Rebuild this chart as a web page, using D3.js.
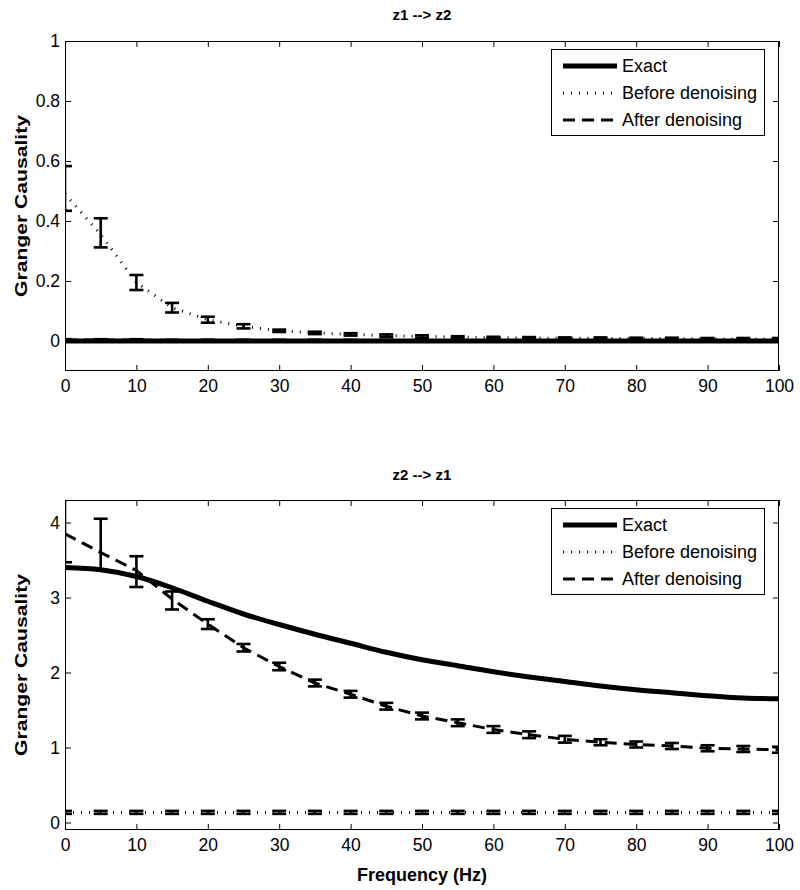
<!DOCTYPE html>
<html>
<head>
<meta charset="utf-8">
<script src="https://cdn.jsdelivr.net/npm/d3@7"></script>
<style>
  html, body { margin: 0; padding: 0; background: #fff; }
  svg { display: block; font-family: "Liberation Sans", Arial, Helvetica, sans-serif; }
</style>
</head>
<body>
<svg id="chart" width="800" height="890"></svg>
<script>
// ---------------- data ----------------
const freq = [0, 5, 10, 15, 20, 25, 30, 35, 40, 45, 50, 55, 60, 65, 70, 75, 80, 85, 90, 95, 100];
const xTicks = [0, 10, 20, 30, 40, 50, 60, 70, 80, 90, 100];

// Panel 1: z1 --> z2
const topExact      = [0, 0, 0, 0, 0, 0, 0, 0, 0, 0, 0, 0, 0, 0, 0, 0, 0, 0, 0, 0, 0];
const topBefore     = [0.49, 0.355, 0.195, 0.111, 0.071, 0.049, 0.034, 0.027, 0.022, 0.018, 0.015, 0.013, 0.011, 0.010, 0.009, 0.009, 0.008, 0.008, 0.007, 0.007, 0.007];
const topBeforeLow  = [0.434, 0.312, 0.170, 0.095, 0.061, 0.042, 0.030, 0.023, 0.018, 0.014, 0.011, 0.010, 0.008, 0.007, 0.006, 0.006, 0.005, 0.005, 0.004, 0.004, 0.004];
const topBeforeHigh = [0.583, 0.409, 0.220, 0.127, 0.081, 0.056, 0.038, 0.031, 0.026, 0.022, 0.019, 0.016, 0.014, 0.013, 0.012, 0.012, 0.011, 0.011, 0.010, 0.010, 0.010];
const topAfter      = [0.003, 0.003, 0.003, 0.002, 0.002, 0.002, 0.002, 0.002, 0.002, 0.002, 0.002, 0.002, 0.002, 0.002, 0.002, 0.002, 0.002, 0.002, 0.002, 0.002, 0.002];
const topAfterLow   = [0.000, 0.000, 0.000, 0.000, 0.000, 0.000, 0.000, 0.000, 0.000, 0.000, 0.000, 0.000, 0.000, 0.000, 0.000, 0.000, 0.000, 0.000, 0.000, 0.000, 0.000];
const topAfterHigh  = [0.006, 0.006, 0.006, 0.004, 0.004, 0.004, 0.004, 0.004, 0.004, 0.004, 0.004, 0.004, 0.004, 0.004, 0.004, 0.004, 0.004, 0.004, 0.004, 0.004, 0.004];
const topYTicks     = [0, 0.2, 0.4, 0.6, 0.8, 1];
const topYTickLabels = ["0", "0.2", "0.4", "0.6", "0.8", "1"];

// Panel 2: z2 --> z1
const botExact      = [3.40, 3.37, 3.28, 3.13, 2.95, 2.78, 2.64, 2.51, 2.39, 2.27, 2.17, 2.09, 2.01, 1.94, 1.88, 1.82, 1.77, 1.73, 1.69, 1.66, 1.65];
const botBefore     = [0.135, 0.135, 0.135, 0.135, 0.135, 0.135, 0.135, 0.135, 0.135, 0.135, 0.135, 0.135, 0.135, 0.135, 0.135, 0.135, 0.135, 0.135, 0.135, 0.135, 0.135];
const botBeforeLow  = [0.115, 0.115, 0.115, 0.115, 0.115, 0.115, 0.115, 0.115, 0.115, 0.115, 0.115, 0.115, 0.115, 0.115, 0.115, 0.115, 0.115, 0.115, 0.115, 0.115, 0.115];
const botBeforeHigh = [0.155, 0.155, 0.155, 0.155, 0.155, 0.155, 0.155, 0.155, 0.155, 0.155, 0.155, 0.155, 0.155, 0.155, 0.155, 0.155, 0.155, 0.155, 0.155, 0.155, 0.155];
const botAfter      = [3.85, 3.60, 3.36, 2.98, 2.645, 2.33, 2.08, 1.86, 1.71, 1.55, 1.42, 1.33, 1.24, 1.17, 1.11, 1.07, 1.04, 1.02, 0.99, 0.98, 0.97];
const botAfterLow   = [3.47, 3.37, 3.14, 2.84, 2.58, 2.28, 2.03, 1.815, 1.665, 1.505, 1.375, 1.285, 1.195, 1.125, 1.065, 1.03, 1.00, 0.98, 0.95, 0.94, 0.93];
const botAfterHigh  = [4.45, 4.05, 3.55, 3.08, 2.71, 2.38, 2.13, 1.905, 1.755, 1.595, 1.465, 1.375, 1.285, 1.215, 1.155, 1.11, 1.08, 1.06, 1.03, 1.02, 1.01];
const botYTicks     = [0, 1, 2, 3, 4];
const botYTickLabels = ["0", "1", "2", "3", "4"];

const seriesNames = ["Exact", "Before denoising", "After denoising"];

// ---------------- drawing ----------------
const svg = d3.select("#chart");
const FONT = '"Liberation Sans", Arial, Helvetica, sans-serif';

const styles = {
  exact:  { width: 5,   dash: null },
  before: { width: 3,   dash: "1,7" },
  after:  { width: 3,   dash: "12,7" }
};

function panel(cfg) {
  const { left, right, top, bottom, yDomain, yTicks, yTickLabels, title, titleY,
          exact, before, beforeLow, beforeHigh, after, afterLow, afterHigh, legendTop, xlabel, id } = cfg;
  const x = d3.scaleLinear().domain([0, 100]).range([left, right]);
  const y = d3.scaleLinear().domain(yDomain).range([bottom, top]);

  const g = svg.append("g");

  g.append("clipPath").attr("id", "clip" + id)
    .append("rect").attr("x", left).attr("y", top).attr("width", right - left).attr("height", bottom - top);

  const plot = g.append("g").attr("clip-path", `url(#clip${id})`);

  const smooth = d3.line().x((d, i) => x(freq[i])).y(d => y(d)).curve(d3.curveMonotoneX);
  const straight = d3.line().x((d, i) => x(freq[i])).y(d => y(d));

  // Exact
  plot.append("path").datum(exact).attr("d", smooth)
    .attr("fill", "none").attr("stroke", "#000").attr("stroke-width", styles.exact.width)
    .attr("stroke-linejoin", "round");

  function errSeries(vals, lows, highs, st) {
    plot.append("path").datum(vals).attr("d", straight)
      .attr("fill", "none").attr("stroke", "#000").attr("stroke-width", st.width)
      .attr("stroke-dasharray", st.dash);
    const eb = plot.append("g").attr("stroke", "#000").attr("stroke-width", 2.6).attr("fill", "none");
    vals.forEach((v, i) => {
      const cx = x(freq[i]);
      const y1 = y(lows[i]), y2 = y(highs[i]);
      eb.append("line").attr("x1", cx).attr("x2", cx).attr("y1", y1).attr("y2", y2);
      eb.append("line").attr("x1", cx - 7).attr("x2", cx + 7).attr("y1", y1).attr("y2", y1);
      eb.append("line").attr("x1", cx - 7).attr("x2", cx + 7).attr("y1", y2).attr("y2", y2);
    });
  }
  errSeries(before, beforeLow, beforeHigh, styles.before);
  errSeries(after, afterLow, afterHigh, styles.after);

  // Box
  g.append("rect").attr("x", left + 0.5).attr("y", top + 0.5)
    .attr("width", right - left - 1).attr("height", bottom - top - 1)
    .attr("fill", "none").attr("stroke", "#000").attr("stroke-width", 1);

  // Axes with inward ticks
  const xAxisB = d3.axisBottom(x).tickValues(xTicks).tickSize(-6).tickPadding(9).tickFormat(d3.format("d"));
  const ax = g.append("g").attr("transform", `translate(0,${bottom})`).call(xAxisB);
  const xAxisT = d3.axisTop(x).tickValues(xTicks).tickSize(-6).tickFormat("");
  const axT = g.append("g").attr("transform", `translate(0,${top})`).call(xAxisT);
  const yAxisL = d3.axisLeft(y).tickValues(yTicks).tickSize(-6).tickPadding(5)
    .tickFormat((d, i) => yTickLabels[i]);
  const ayL = g.append("g").attr("transform", `translate(${left},0)`).call(yAxisL);
  const yAxisR = d3.axisRight(y).tickValues(yTicks).tickSize(-6).tickFormat("");
  const ayR = g.append("g").attr("transform", `translate(${right},0)`).call(yAxisR);
  [ax, axT, ayL, ayR].forEach(a => {
    a.select(".domain").remove();
    a.selectAll("line").attr("stroke", "#000");
    a.selectAll("text").attr("fill", "#000").style("font-family", FONT).style("font-size", "17.5px");
  });

  // Title
  g.append("text").attr("x", (left + right) / 2).attr("y", titleY)
    .attr("text-anchor", "middle").style("font-family", FONT)
    .style("font-size", "15px").style("font-weight", "bold").text(title);

  // Y label
  const cy = (top + bottom) / 2;
  g.append("text").attr("transform", `translate(27,${cy}) rotate(-90)`)
    .attr("text-anchor", "middle").style("font-family", FONT)
    .style("font-size", "17px").style("font-weight", "bold")
    .attr("textLength", 182).attr("lengthAdjust", "spacingAndGlyphs")
    .text("Granger Causality");

  if (xlabel) {
    g.append("text").attr("x", (left + right) / 2).attr("y", bottom + 51)
      .attr("text-anchor", "middle").style("font-family", FONT)
      .style("font-size", "18px").style("font-weight", "bold").text(xlabel);
  }

  // Legend
  const lx0 = 551, lx1 = 764;
  const lg = g.append("g");
  lg.append("rect").attr("x", lx0 + 0.5).attr("y", legendTop + 0.5)
    .attr("width", lx1 - lx0).attr("height", 86)
    .attr("fill", "#fff").attr("stroke", "#000").attr("stroke-width", 1);
  const keys = ["exact", "before", "after"];
  seriesNames.forEach((name, i) => {
    const ly = legendTop + 17 + i * 27;
    const st = styles[keys[i]];
    lg.append("line").attr("x1", 563).attr("x2", 617).attr("y1", ly).attr("y2", ly)
      .attr("stroke", "#000").attr("stroke-width", st.width)
      .attr("stroke-dasharray", st.dash);
    lg.append("text").attr("x", 622).attr("y", ly).attr("dy", "0.36em")
      .style("font-family", FONT).style("font-size", "18px").text(name);
  });
}

panel({
  id: 1, left: 65, right: 779, top: 41, bottom: 371,
  yDomain: [-0.1, 1], yTicks: topYTicks, yTickLabels: topYTickLabels,
  title: "z1 --> z2", titleY: 20,
  exact: topExact, before: topBefore, beforeLow: topBeforeLow, beforeHigh: topBeforeHigh,
  after: topAfter, afterLow: topAfterLow, afterHigh: topAfterHigh, legendTop: 49
});

panel({
  id: 2, left: 65, right: 779, top: 500, bottom: 830,
  yDomain: [-0.1, 4.3], yTicks: botYTicks, yTickLabels: botYTickLabels,
  title: "z2 --> z1", titleY: 480,
  exact: botExact, before: botBefore, beforeLow: botBeforeLow, beforeHigh: botBeforeHigh,
  after: botAfter, afterLow: botAfterLow, afterHigh: botAfterHigh, legendTop: 508,
  xlabel: "Frequency (Hz)"
});
</script>
</body>
</html>
